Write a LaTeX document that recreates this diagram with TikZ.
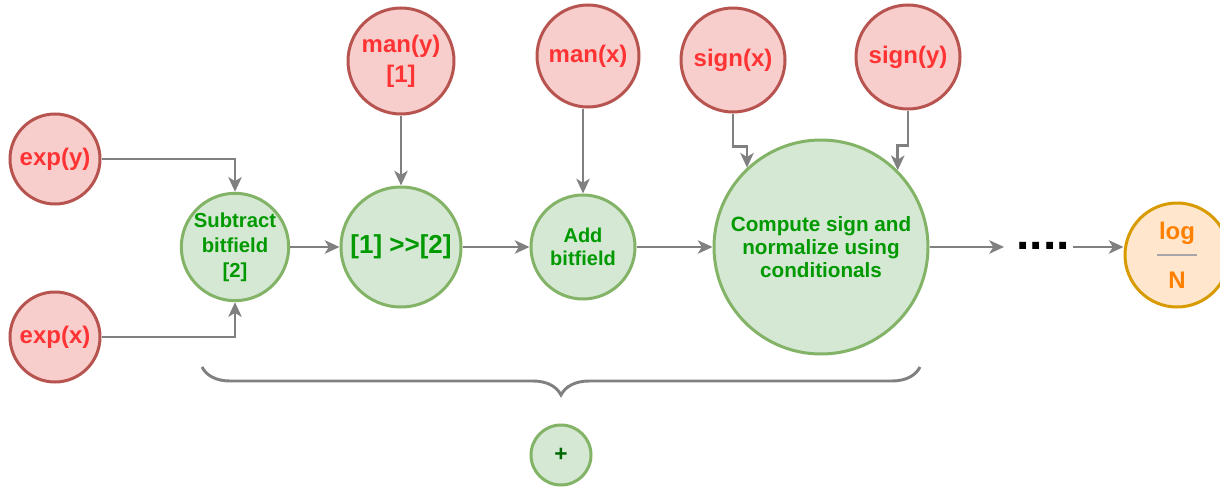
\documentclass[tikz,border=0pt]{standalone}
\usepackage{fontspec}
\setmainfont{Liberation Sans}
\usetikzlibrary{arrows.meta,decorations.pathreplacing}
\definecolor{rfill}{HTML}{F8CECC}
\definecolor{rdraw}{HTML}{B85450}
\definecolor{rtext}{HTML}{FF3333}
\definecolor{gfill}{HTML}{D5E8D4}
\definecolor{gdraw}{HTML}{82B366}
\definecolor{gtext}{HTML}{009900}
\definecolor{dgtext}{HTML}{006600}
\definecolor{ofill}{HTML}{FFE6CC}
\definecolor{odraw}{HTML}{D79B00}
\definecolor{otext}{HTML}{FF8000}
\definecolor{arrgrey}{HTML}{808080}
\tikzset{
  redc/.style={circle, inner sep=0pt, line width=2.25pt, draw=rdraw, fill=rfill, text=rtext, align=center, font=\bfseries\fontsize{18}{22.5}\selectfont},
  greenc/.style={circle, inner sep=0pt, line width=2.25pt, draw=gdraw, fill=gfill, text=gtext, align=center},
  orangec/.style={circle, inner sep=0pt, line width=2.25pt, draw=odraw, fill=ofill, text=otext, align=center, font=\bfseries\fontsize{18}{37}\selectfont},
  arr/.style={draw=arrgrey, line width=2pt, -{Stealth[length=11pt, width=10pt, inset=3pt]}},
  bracestyle/.style={draw=arrgrey, line width=2.2pt, decorate, decoration={brace, mirror, amplitude=21pt}},
}
\begin{document}
\begin{tikzpicture}[x=0.75pt, y=-0.75pt]
\useasboundingbox (0,0) rectangle (1220,489);
% inputs
\node[redc, minimum size=67.5pt] (expy) at (55,159) {exp(y)};
\node[redc, minimum size=67.5pt] (expx) at (55,337) {exp(x)};
\node[redc, minimum size=79.5pt] (many) at (401,61) {man(y)\\{}[1]};
\node[redc, minimum size=76.5pt] (manx) at (588,56) {man(x)};
\node[redc, minimum size=78pt] (signx) at (733,60) {sign(x)};
\node[redc, minimum size=78pt] (signy) at (908,57) {sign(y)};
% operations
\node[greenc, minimum size=78pt, font=\bfseries\fontsize{15.2}{18.75}\selectfont] (sub) at (235,247) {Subtract\\bitfield\\{}[2]};
\node[greenc, minimum size=90pt, font=\bfseries\fontsize{19.5}{23}\selectfont] (shift) at (401,247) {[1] {>}{>}[2]};
\node[greenc, minimum size=78pt, font=\bfseries\fontsize{15}{17.5}\selectfont] (add) at (583,247) {Add\\bitfield};
\node[greenc, minimum size=160.5pt, font=\bfseries\fontsize{15.5}{17.5}\selectfont] (comp) at (821,247) {Compute sign and\\normalize using\\conditionals};
\node[orangec, minimum size=78pt] (log) at (1177,255) {log\\N};
\draw[draw=black!35, line width=0.8pt] ([xshift=-15pt]log.center) -- ([xshift=15pt]log.center);
\node[anchor=base, inner sep=0pt, font=\bfseries\fontsize{36}{40}\selectfont] (dots) at (1043,249) {....};
\coordinate (dl) at (1004,247);
\coordinate (dr) at (1073,247);
\node[greenc, minimum size=45pt, text=dgtext, font=\bfseries\fontsize{17}{20}\selectfont] (plus) at (561,455) {+};
% connectors
\draw[arr] (expy.east) -| (sub.north);
\draw[arr] (expx.east) -| (sub.south);
\draw[arr] (sub.east) -- (shift.west);
\draw[arr] (many.south) -- (shift.north);
\draw[arr] (shift.east) -- (add.west);
\draw[arr] (add.north |- manx.south) -- (add.north);
\draw[arr] (add.east) -- (comp.west);
\draw[arr] (signx.south) -- ++(0,33) -| (comp.133);
\draw[arr] (signy.south) -- ++(0,35) -| (comp.45);
\draw[arr] (comp.east) -- (dl);
\draw[arr] (dr) -- (dr -| log.west);
% brace
\draw[bracestyle] (202,367) -- (920,367);
\end{tikzpicture}
\end{document}
